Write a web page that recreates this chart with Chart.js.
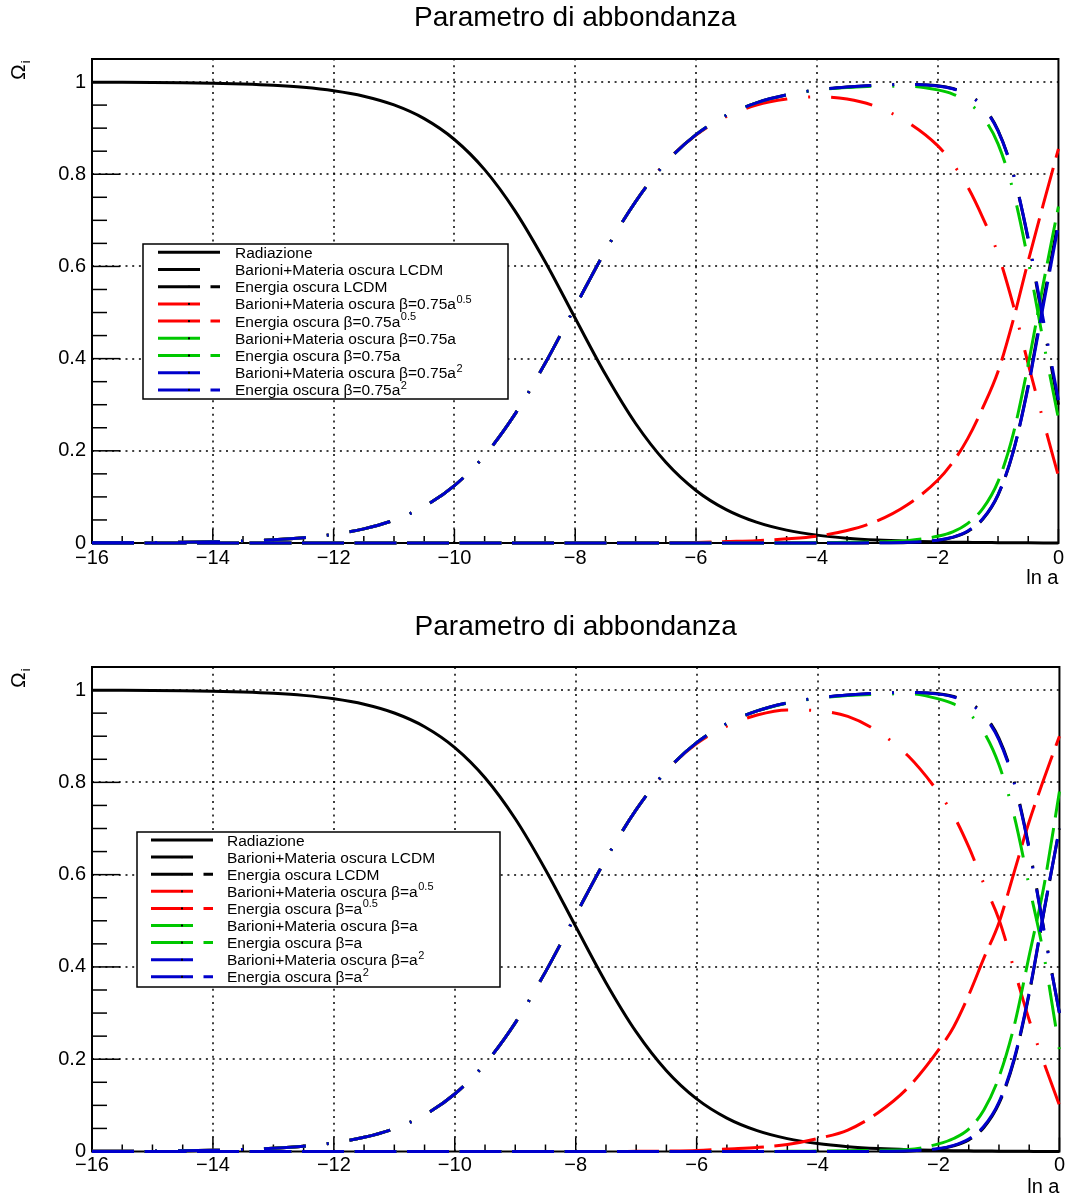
<!DOCTYPE html>
<html lang="it">
<head>
<meta charset="UTF-8">
<title>Parametro di abbondanza</title>
<script src="https://cdn.jsdelivr.net/npm/chart.js@4"></script>
<style>
  body { margin: 0; background: #fff; }
  canvas { display: block; }
</style>
</head>
<body>
<canvas id="topChart" width="1067" height="600"></canvas>
<canvas id="bottomChart" width="1067" height="599"></canvas>
<script>
// ln a (asse x)
const lnA = [-16, -15.5, -15, -14.5, -14, -13.5, -13, -12.5, -12, -11.5, -11, -10.5, -10, -9.5, -9, -8.5,
  -8, -7.5, -7, -6.5, -6, -5.5, -5, -4.5, -4, -3.5, -3, -2.5, -2, -1.75, -1.5, -1.25, -1, -0.75, -0.5, -0.25, 0];

const radiazione = [0.9996, 0.9994, 0.9990, 0.9984, 0.9974, 0.9957, 0.9930, 0.9885, 0.9811, 0.9693, 0.9503, 0.9206,
  0.8754, 0.8100, 0.7211, 0.6107, 0.4875, 0.3659, 0.2592, 0.1751, 0.1140, 0.0724, 0.0452, 0.0279, 0.0171, 0.0105,
  0.0064, 0.0039, 0.0024, 0.0018, 0.0014, 0.0010, 0.0008, 0.0005, 0.0003, 0.0002, 0.0001];

const materiaLCDM = [0.0004, 0.0006, 0.0010, 0.0016, 0.0026, 0.0043, 0.0070, 0.0115, 0.0189, 0.0307, 0.0497, 0.0794,
  0.1246, 0.1900, 0.2789, 0.3893, 0.5125, 0.6341, 0.7408, 0.8249, 0.8860, 0.9276, 0.9548, 0.9721, 0.9829, 0.9894,
  0.9933, 0.9948, 0.9920, 0.9861, 0.9734, 0.9470, 0.8951, 0.8022, 0.6575, 0.4757, 0.3000];
const energiaLCDM = [0, 0, 0, 0, 0, 0, 0, 0, 0, 0, 0, 0, 0, 0, 0, 0, 0, 0, 0, 0, 0, 0, 0, 0, 0.0000, 0.0001,
  0.0003, 0.0013, 0.0056, 0.0121, 0.0252, 0.0520, 0.1041, 0.1973, 0.3422, 0.5241, 0.7000];

// pannello superiore: beta = 0.75 a^n
const materiaTop05 = [0.0004, 0.0006, 0.0010, 0.0016, 0.0026, 0.0043, 0.0070, 0.0115, 0.0189, 0.0307, 0.0497, 0.0794,
  0.1246, 0.1900, 0.2789, 0.3893, 0.5125, 0.6341, 0.7408, 0.826, 0.885, 0.925, 0.950, 0.963, 0.968, 0.963,
  0.946, 0.913, 0.862, 0.823, 0.772, 0.705, 0.627, 0.517, 0.388, 0.265, 0.145];
const energiaTop05 = [0, 0, 0, 0, 0, 0, 0, 0, 0, 0, 0, 0, 0, 0, 0, 0, 0, 0, 0.0002, 0.0005, 0.001, 0.003, 0.005, 0.009,
  0.015, 0.027, 0.048, 0.083, 0.136, 0.175, 0.227, 0.294, 0.372, 0.483, 0.612, 0.735, 0.855];
const materiaTop1 = [0.0004, 0.0006, 0.0010, 0.0016, 0.0026, 0.0043, 0.0070, 0.0115, 0.0189, 0.0307, 0.0497, 0.0794,
  0.1246, 0.1900, 0.2789, 0.3893, 0.5125, 0.6341, 0.7408, 0.8249, 0.8860, 0.9276, 0.9548, 0.9720, 0.9825, 0.9880,
  0.9910, 0.9910, 0.9830, 0.9740, 0.9560, 0.9240, 0.8660, 0.7640, 0.6120, 0.4370, 0.2700];
const energiaTop1 = [0, 0, 0, 0, 0, 0, 0, 0, 0, 0, 0, 0, 0, 0, 0, 0, 0, 0, 0, 0, 0, 0, 0, 0.0001, 0.0004, 0.0015,
  0.0026, 0.0051, 0.0146, 0.0242, 0.0426, 0.0750, 0.1332, 0.2355, 0.3877, 0.5628, 0.7300];
const materiaTop2 = [0.0004, 0.0006, 0.0010, 0.0016, 0.0026, 0.0043, 0.0070, 0.0115, 0.0189, 0.0307, 0.0497, 0.0794,
  0.1246, 0.1900, 0.2789, 0.3893, 0.5125, 0.6341, 0.7408, 0.8249, 0.8860, 0.9276, 0.9548, 0.9721, 0.9829, 0.9893,
  0.9932, 0.9946, 0.9915, 0.9855, 0.9725, 0.9458, 0.8940, 0.8020, 0.6605, 0.4840, 0.3100];
const energiaTop2 = [0, 0, 0, 0, 0, 0, 0, 0, 0, 0, 0, 0, 0, 0, 0, 0, 0, 0, 0, 0, 0, 0, 0, 0, 0.0000, 0.0002,
  0.0004, 0.0015, 0.0061, 0.0127, 0.0261, 0.0532, 0.1052, 0.1975, 0.3392, 0.5158, 0.6900];

// pannello inferiore: beta = a^n
const materiaBot05 = [0.0004, 0.0006, 0.0010, 0.0016, 0.0026, 0.0043, 0.0070, 0.0115, 0.0189, 0.0307, 0.0497, 0.0794,
  0.1246, 0.1900, 0.2789, 0.3893, 0.5125, 0.6341, 0.7408, 0.825, 0.884, 0.922, 0.946, 0.957, 0.955, 0.943,
  0.910, 0.857, 0.778, 0.728, 0.660, 0.580, 0.503, 0.395, 0.285, 0.190, 0.100];
const energiaBot05 = [0, 0, 0, 0, 0, 0, 0, 0, 0, 0, 0, 0, 0, 0, 0, 0, 0, 0, 0.0003, 0.0008, 0.002, 0.0056, 0.0088, 0.015,
  0.028, 0.0465, 0.084, 0.139, 0.220, 0.270, 0.339, 0.419, 0.496, 0.605, 0.715, 0.810, 0.900];
const materiaBot1 = [0.0004, 0.0006, 0.0010, 0.0016, 0.0026, 0.0043, 0.0070, 0.0115, 0.0189, 0.0307, 0.0497, 0.0794,
  0.1246, 0.1900, 0.2789, 0.3893, 0.5125, 0.6341, 0.7408, 0.8249, 0.8860, 0.9276, 0.9548, 0.9718, 0.9820, 0.9880,
  0.9910, 0.9920, 0.9810, 0.9700, 0.9500, 0.9090, 0.8380, 0.7280, 0.5750, 0.4200, 0.2200];
const energiaBot1 = [0, 0, 0, 0, 0, 0, 0, 0, 0, 0, 0, 0, 0, 0, 0, 0, 0, 0, 0, 0, 0, 0, 0, 0.0003, 0.0009, 0.0015,
  0.0026, 0.0041, 0.0166, 0.0282, 0.0486, 0.0900, 0.1612, 0.2715, 0.4247, 0.5798, 0.7800];
const materiaBot2 = [0.0004, 0.0006, 0.0010, 0.0016, 0.0026, 0.0043, 0.0070, 0.0115, 0.0189, 0.0307, 0.0497, 0.0794,
  0.1246, 0.1900, 0.2789, 0.3893, 0.5125, 0.6341, 0.7408, 0.8249, 0.8860, 0.9276, 0.9548, 0.9721, 0.9829, 0.9893,
  0.9932, 0.9946, 0.9912, 0.9850, 0.9716, 0.9443, 0.8920, 0.7990, 0.6550, 0.4740, 0.3000];
const energiaBot2 = [0, 0, 0, 0, 0, 0, 0, 0, 0, 0, 0, 0, 0, 0, 0, 0, 0, 0, 0, 0, 0, 0, 0, 0, 0.0000, 0.0002,
  0.0004, 0.0015, 0.0064, 0.0132, 0.0270, 0.0547, 0.1072, 0.2005, 0.3447, 0.5258, 0.7000];

const topLabels = ['Radiazione', 'Barioni+Materia oscura LCDM', 'Energia oscura LCDM',
  'Barioni+Materia oscura β=0.75a^0.5', 'Energia oscura β=0.75a^0.5',
  'Barioni+Materia oscura β=0.75a', 'Energia oscura β=0.75a',
  'Barioni+Materia oscura β=0.75a^2', 'Energia oscura β=0.75a^2'];
const bottomLabels = ['Radiazione', 'Barioni+Materia oscura LCDM', 'Energia oscura LCDM',
  'Barioni+Materia oscura β=a^0.5', 'Energia oscura β=a^0.5',
  'Barioni+Materia oscura β=a', 'Energia oscura β=a',
  'Barioni+Materia oscura β=a^2', 'Energia oscura β=a^2'];

const FONT = '"Liberation Sans", Arial, Helvetica, sans-serif';
Chart.defaults.font.family = FONT;

const colors = ['#000000', '#000000', '#000000', '#ff0000', '#ff0000', '#00c800', '#00c800', '#0000cc', '#0000cc'];
const solid = [];
const dashDot = [42, 21, 2, 21];   // barioni + materia oscura
const longDash = [42, 10.5];       // energia oscura
const dashes = [solid, dashDot, longDash, dashDot, longDash, dashDot, longDash, dashDot, longDash];

function makeDatasets(labels, series) {
  return series.map((vals, i) => ({
    label: labels[i],
    data: lnA.map((x, k) => ({ x: x, y: vals[k] })),
    borderColor: colors[i],
    borderDash: dashes[i],
    borderWidth: 3,
    borderCapStyle: 'butt',
    pointRadius: 0,
    cubicInterpolationMode: 'monotone',
    fill: false,
    clip: 4,
    order: series.length - 1 - i   // l'ultima serie sopra, come in ROOT
  }));
}

const isMajorX = v => Math.round(v * 2) % 4 === 0;
const isMajorY = v => Math.round(v * 100) % 20 === 0;

function line(ctx, x0, y0, x1, y1) {
  ctx.beginPath();
  ctx.moveTo(x0, y0);
  ctx.lineTo(x1, y1);
  ctx.stroke();
}

// cornice, griglia tratteggiata e tacche interne in stile ROOT, legenda e titoli
const rootPad = {
  id: 'rootPad',
  beforeDatasetsDraw(chart, args, opts) {
    const { ctx, chartArea: a, scales: { x, y } } = chart;
    ctx.save();
    ctx.strokeStyle = '#000';
    ctx.lineWidth = 1.5;
    ctx.setLineDash([2, 4.7]);
    x.ticks.forEach(t => {
      if (!isMajorX(t.value) || t.value <= x.min || t.value >= x.max) return;
      const p = Math.round(x.getPixelForValue(t.value));
      line(ctx, p, a.bottom, p, a.top);
    });
    y.ticks.forEach(t => {
      if (!isMajorY(t.value) || t.value <= y.min) return;
      const p = Math.round(y.getPixelForValue(t.value));
      line(ctx, a.left, p, a.right, p);
    });
    ctx.setLineDash([]);
    ctx.lineWidth = 1.5;
    x.ticks.forEach(t => {
      const p = x.getPixelForValue(t.value);
      line(ctx, p, a.bottom, p, a.bottom - (isMajorX(t.value) ? 14 : 7));
    });
    y.ticks.forEach(t => {
      if (t.value > 1.0001) return;
      const p = y.getPixelForValue(t.value);
      line(ctx, a.left, p, a.left + (isMajorY(t.value) ? 28 : 15), p);
    });
    ctx.lineWidth = 2;
    ctx.strokeRect(a.left, a.top, a.right - a.left, a.bottom - a.top);
    ctx.restore();
  },
  afterDatasetsDraw(chart, args, opts) {
    const { ctx } = chart;
    const L = opts.legend;
    ctx.save();
    ctx.fillStyle = '#fff';
    ctx.fillRect(L.left, L.top, L.right - L.left, L.bottom - L.top);
    ctx.strokeStyle = '#000';
    ctx.lineWidth = 1.5;
    ctx.strokeRect(L.left, L.top, L.right - L.left, L.bottom - L.top);
    chart.data.datasets.forEach((ds, i) => {
      const yy = L.row0 + i * L.step;
      ctx.strokeStyle = ds.borderColor;
      ctx.lineWidth = 3;
      ctx.setLineDash(ds.borderDash);
      line(ctx, L.x0, yy, L.x1, yy);
      ctx.setLineDash([]);
      if (i > 0) {
        ctx.fillStyle = '#000';
        ctx.fillRect((L.x0 + L.x1) / 2 - 1, yy - 1, 2, 2);
      }
      const parts = ds.label.split('^');
      ctx.fillStyle = '#000';
      ctx.textAlign = 'left';
      ctx.textBaseline = 'alphabetic';
      ctx.font = '15.5px ' + FONT;
      ctx.fillText(parts[0], L.textX, yy + 5.5);
      if (parts[1]) {
        const w = ctx.measureText(parts[0]).width;
        ctx.font = '11px ' + FONT;
        ctx.fillText(parts[1], L.textX + w + 0.5, yy - 1);
      }
    });
    ctx.restore();
  },
  afterDraw(chart, args, opts) {
    const { ctx, chartArea: a } = chart;
    ctx.save();
    ctx.fillStyle = '#000';
    // titolo centrato sulla cornice
    ctx.font = '28px ' + FONT;
    ctx.textAlign = 'center';
    ctx.textBaseline = 'middle';
    ctx.fillText('Parametro di abbondanza', (a.left + a.right) / 2, opts.titleY);
    // ln a
    ctx.font = '20px ' + FONT;
    ctx.textAlign = 'right';
    ctx.textBaseline = 'alphabetic';
    ctx.fillText('ln a', a.right, a.bottom + 41);
    // Omega_i, ruotato
    ctx.translate(25, a.top + 21);
    ctx.rotate(-Math.PI / 2);
    ctx.textAlign = 'left';
    ctx.font = '21px ' + FONT;
    ctx.fillText('Ω', 0, 0);
    const w = ctx.measureText('Ω').width;
    ctx.font = '13px ' + FONT;
    ctx.fillText('i', w + 1, 5);
    ctx.restore();
  }
};

function makeChart(id, datasets, cfg) {
  return new Chart(document.getElementById(id), {
    type: 'line',
    data: { datasets: datasets },
    options: {
      responsive: false,
      animation: false,
      devicePixelRatio: 1,
      layout: { padding: { left: 0, right: 7, top: cfg.top, bottom: 0 } },
      plugins: {
        legend: { display: false },
        tooltip: { enabled: false },
        title: { display: false },
        rootPad: { legend: cfg.legend, titleY: cfg.titleY }
      },
      scales: {
        x: {
          type: 'linear',
          min: -16,
          max: 0,
          grid: { display: false, drawTicks: false },
          border: { display: false },
          ticks: {
            stepSize: 0.5,
            autoSkip: false,
            maxRotation: 0,
            padding: cfg.xPad,
            color: '#000',
            font: { size: 20 },
            callback: v => isMajorX(v) ? (v < 0 ? '\u2212' + Math.abs(v) : '0') : ''
          },
          afterFit: s => { s.height = cfg.xHeight; }
        },
        y: {
          type: 'linear',
          min: 0,
          max: 1.05,
          grid: { display: false, drawTicks: false },
          border: { display: false },
          ticks: {
            stepSize: 0.05,
            autoSkip: false,
            padding: 6,
            color: '#000',
            font: { size: 20 },
            callback: v => isMajorY(v) ? String(Math.round(v * 100) / 100) : ''
          },
          afterFit: s => { s.width = 92; }
        }
      }
    },
    plugins: [rootPad]
  });
}

const topChart = makeChart('topChart',
  makeDatasets(topLabels, [radiazione, materiaLCDM, energiaLCDM, materiaTop05, energiaTop05,
    materiaTop1, energiaTop1, materiaTop2, energiaTop2]),
  {
    top: 59, xHeight: 57, xPad: 3, titleY: 18,
    legend: { left: 143, top: 244, right: 508, bottom: 399, x0: 158, x1: 220, textX: 235, row0: 252.3, step: 17.2 }
  });

const bottomChart = makeChart('bottomChart',
  makeDatasets(bottomLabels, [radiazione, materiaLCDM, energiaLCDM, materiaBot05, energiaBot05,
    materiaBot1, energiaBot1, materiaBot2, energiaBot2]),
  {
    top: 67, xHeight: 47.5, xPad: 2, titleY: 27,
    legend: { left: 137, top: 232, right: 500, bottom: 387, x0: 151, x1: 213, textX: 227, row0: 240, step: 17.1 }
  });
</script>
</body>
</html>
